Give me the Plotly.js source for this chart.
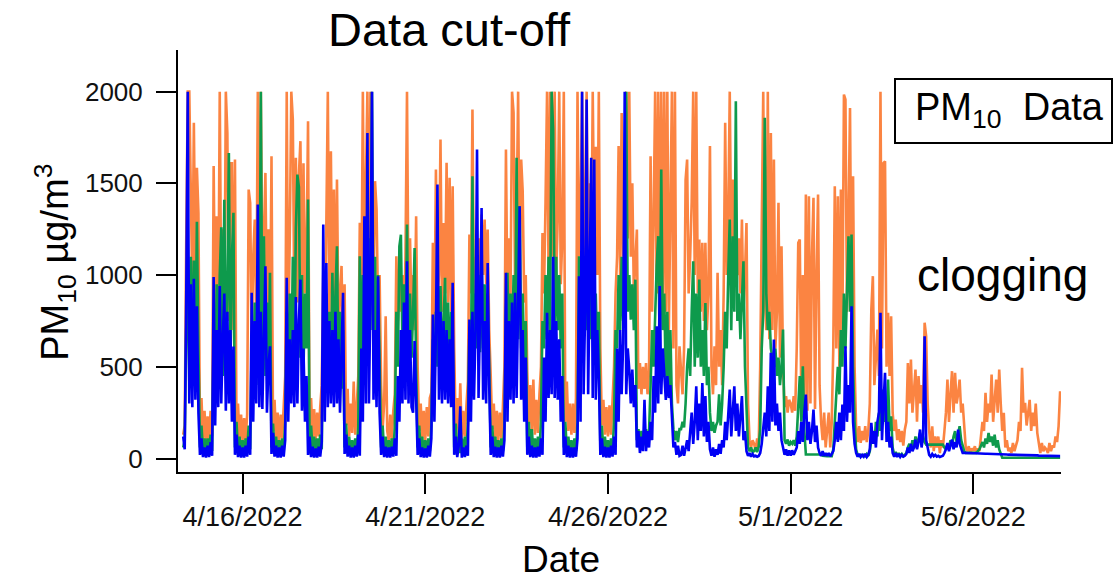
<!DOCTYPE html>
<html>
<head>
<meta charset="utf-8">
<script src="https://cdn.plot.ly/plotly-3.0.1.min.js"></script>
<style>
  html, body { margin: 0; padding: 0; background: #fff; }
  #chart { width: 1119px; height: 582px; }
</style>
</head>
<body>
<div id="chart"></div>
<script>
// Hourly PM10 readings (µg/m³), first sample 2022-04-14 09:00, one row per day.
const startTime = '2022-04-14T09:00:00Z';

const orangeSeries = [
  130,180,1200,2000,2000,1450,900,1830,1000,1585,1340,150,330,100,260,            // Apr 14 (from 09:00)
  90,230,100,260,120,1595, 700,1320,650,2000,800,1250, 700,2000,1775,750,1610,1610, 700,1630,150,300,100,240,   // Apr 15
  90,220,100,240,1466,1394, 600,1100,1303,700,2000,800, 2000,900,1200,1557,750,1250, 600,1648,150,320,100,250,  // Apr 16
  90,240,110,260,450,2000, 650,1200,2000,1848,800,1640, 850,1548,1730,800,1610,900, 1100,1839,160,330,110,270,  // Apr 17
  100,250,120,280,400,1000, 700,1266,2000,750,1675,800, 1466,750,1521,700,900,1050, 600,950,180,380,120,300,    // Apr 18
  140,420,130,300,450,1285, 800,2000,900,1500,2000,1000, 2000,1200,900,1512,1360,800, 1000,400,160,300,775,150, // Apr 19
  100,240,100,260,350,1103, 750,1050,800,1000,700,1100, 2000,850,1200,750,1000,700, 1320,500,150,300,110,260,   // Apr 20
  100,280,120,330,360,1176, 700,1575,850,1000,1739,800, 1284,900,1612,850,1530,800, 1484,600,160,330,120,410,   // Apr 21
  110,260,120,280,420,1221, 900,1902,800,1100,850,1200, 900,1330,1000,1303,950,1248, 700,450,160,300,110,260,   // Apr 22
  100,250,110,280,500,1684, 800,1200,850,2000,1884,900, 1300,2000,950,1630,1457,850, 1000,470,180,400,150,430,  // Apr 23
  130,320,140,350,500,1230, 900,1400,2000,1000,2000,1100, 1500,2000,1000,1300,2000,950, 1200,2000,200,420,150,300, // Apr 24
  130,300,140,330,2000,1100, 1300,2000,1000,1400,2000,1100, 1500,1000,2000,1200,1700,1000, 2000,600,180,320,130,280, // Apr 25
  120,290,130,320,500,900, 1100,1703,1000,1884,1100,1500, 2000,1200,2000,1100,1500,900, 1100,1248,380,520,350,500, // Apr 26
  380,520,350,480,1648,800, 1300,2000,900,2000,1000,2000, 900,2000,800,2000,700,1300, 2000,600,2000,400,300,612,  // Apr 27
  500,350,600,1520,1630,900, 1100,1400,2000,1000,2000,900, 1194,800,1176,750,1176,700, 900,1703,500,350,612,400,  // Apr 28
  1012,500,700,400,900,1830, 1000,1300,2000,1100,1521,1000, 1300,1000,1200,900,1303,800, 1000,1284,300,100,60,100, // Apr 29
  80,40,110,60,500,1484, 2000,900,700,2000,650,1775, 700,1630,600,800,1394,550, 1157,500,280,340,250,320,        // Apr 30
  300,250,340,260,600,1176, 1194,300,1000,280,1439,260, 1430,300,1100,1421,270,1000, 1439,400,200,100,250,60,    // May 1
  150,250,60,200,600,1484, 600,1430,500,1466,700,1984, 1957,800,1300,1911,700,1539, 500,170,90,176,85,150,       // May 2
  100,176,90,150,300,812, 994,400,549,703,450,2000, 600,1611,1620,500,794,450, 776,250,150,212,100,160,          // May 3
  90,150,70,158,200,521, 300,540,250,400,485,200, 449,300,400,250,740,667, 300,150,60,176,40,120,                // May 4
  60,120,30,100,60,150, 250,430,200,350,476,250, 467,300,350,430,250,300, 176,60,40,67,30,55,                    // May 5
  40,67,30,55,40,120, 200,150,358,200,300,250, 458,200,300,430,250,485, 300,150,249,60,100,40,                   // May 6
  60,30,85,40,70,100, 200,150,494,250,303,180, 249,320,150,250,176,300, 140,80,30,85,40,60,                      // May 7
  50,30,85,40,70,60,120,90,176,367                                                                               // May 8 (to 09:00)
];

const greenSeries = [
  60,100,700,1000,420,1100,450,1080,500,1290,600,60,180,40,110,                    // Apr 14 (from 09:00)
  30,110,35,130,40,700, 400,950,420,1000,1260,450, 1410,500,900,1666,480,1100, 1340,60,200,40,120,30,     // Apr 15
  100,30,110,40,180,50, 650,380,850,400,1050,450, 2000,500,1212,450,850,400, 1012,60,190,40,120,30,       // Apr 16
  100,30,110,40,200,800, 420,900,450,1100,500,1250, 1548,1480,550,1000,480,900, 600,1412,60,180,40,120,   // Apr 17
  30,110,40,130,50,700, 400,900,450,800,480,1012, 450,900,1157,420,800,380, 700,60,190,40,120,30,         // Apr 18
  100,30,110,40,180,1103, 450,1000,500,1100,550,1200, 700,2000,600,1100,500,1000, 500,60,180,40,120,30,   // Apr 19
  100,30,110,40,170,800, 500,1157,1220,600,950,550, 1275,600,900,550,800,1148, 500,60,180,40,120,30,      // Apr 20
  100,30,110,40,180,650, 450,800,500,700,940,480, 800,985,500,850,450,800, 700,60,190,40,120,30,          // Apr 21
  110,30,120,40,190,700, 500,1539,550,900,600,1000, 580,1100,600,950,550,900, 500,60,180,40,120,30,       // Apr 22
  100,30,110,40,180,800, 1012,500,900,550,1000,600, 1639,650,1375,600,900,500, 750,60,200,40,160,30,      // Apr 23
  110,30,120,40,200,750, 600,1000,650,1100,700,2000, 1794,750,1100,700,1000,600, 900,60,200,40,120,30,    // Apr 24
  100,30,110,40,200,1103, 600,1000,650,900,700,950, 1012,650,1000,600,900,550, 800,60,180,40,120,30,      // Apr 25
  100,30,110,40,200,700, 600,1000,700,1100,750,1200, 2000,800,1000,757,950,700, 975,100,160,80,150,70,    // Apr 26
  90,160,80,150,400,700, 500,800,1048,1212,600,1575, 700,900,400,800,350,700, 300,160,100,150,90,160,     // Apr 27
  160,200,170,300,500,600, 450,800,1075,500,900,550, 976,500,700,450,848,400, 500,250,150,200,140,180,    // Apr 28
  200,350,180,300,500,800, 600,1000,1303,700,1212,800, 1948,750,900,650,850,1075, 500,300,60,40,60,35,    // Apr 29
  40,60,35,65,160,600, 800,1857,900,700,800,600, 540,500,600,450,550,400, 500,703,100,80,104,70,          // Apr 30
  90,80,100,70,120,300, 450,200,503,150,22,22, 22,22,22,22,22,22, 22,22,22,15,13,13,                      // May 1
  13,13,13,13,50,200, 300,500,350,700,500,900, 600,1000,1212,800,1221,500, 200,50,20,13,20,13,            // May 2
  20,13,25,15,40,100, 150,80,200,120,250,150, 376,200,300,150,430,150, 230,60,20,35,15,30,                // May 3
  15,25,12,20,30,60, 80,50,100,60,120,70, 100,140,80,120,90,76, 76,76,76,76,76,76,                        // May 4
  76,76,76,76,76,60, 50,80,60,100,70,120, 149,90,130,176,100,60, 40,31,31,31,31,31,                       // May 5
  31,31,31,40,50,70, 90,60,110,80,140,90, 120,70,130,60,100,50, 20,4,4,4,4,4,                             // May 6
  4,4,3,4,4,4, 3,4,4,4,4,3, 4,4,4,4,3,4, 4,4,4,4,3,4,                                                     // May 7
  4,4,4,3,4,4,4,4,3,4                                                                                     // May 8 (to 09:00)
];

const blueSeries = [
  120,50,900,2000,300,950,280,980,320,830,250,20,110,8,60,                        // Apr 14 (from 09:00)
  5,70,8,90,15,990, 180,700,280,940,300,650, 900,260,800,300,700,200, 610,20,130,8,70,5,            // Apr 15
  60,5,70,10,120,20, 903,200,750,300,1385,280, 800,270,650,1048,250,500, 612,25,140,10,70,5,        // Apr 16
  60,5,70,10,100,985, 200,650,300,700,280,880, 300,750,975,260,600,200, 450,20,120,8,65,5,          // Apr 17
  55,5,65,10,90,1275, 200,1066,280,750,300,700, 280,800,300,650,250,550, 903,25,130,10,70,5,        // Apr 18
  60,5,70,10,130,15, 600,200,1321,300,1775,300, 900,2000,320,700,280,994, 250,20,120,8,65,5,        // Apr 19
  60,5,65,10,110,15, 450,200,700,300,850,320, 1075,300,700,280,250,640, 300,20,110,8,60,5,          // Apr 20
  55,5,70,10,110,785, 200,700,1494,320,800,300, 750,320,700,300,650,280, 958,20,120,8,70,285,       // Apr 21
  5,60,8,70,15,758, 200,800,320,700,1684,330, 800,1366,320,750,300,1066, 400,20,120,8,65,5,         // Apr 22
  60,5,70,10,100,1012, 200,750,320,850,300,903, 330,800,1375,320,700,200, 550,20,120,8,70,5,        // Apr 23
  60,5,65,10,110,20, 550,200,794,330,700,350, 1100,330,750,320,650,200, 450,20,120,8,70,5,          // Apr 24
  60,5,60,10,110,994, 200,2000,350,800,1957,350, 900,1639,330,1630,320,700, 450,20,110,8,65,5,      // Apr 25
  60,5,70,10,120,20, 600,200,700,350,630,2000, 350,600,485,300,485,280, 400,60,150,30,120,40,       // Apr 26
  320,40,150,60,200,100, 449,250,721,300,940,350, 600,485,320,450,330,400, 200,60,90,20,70,15,      // Apr 27
  20,70,15,60,100,40, 150,250,80,200,394,100, 300,150,412,120,340,90, 200,50,15,60,10,50,           // Apr 28
  20,80,25,100,60,200, 100,250,376,120,300,394, 150,300,120,250,340,100, 150,40,15,30,10,25,        // Apr 29
  12,15,10,14,30,80, 150,250,120,394,150,576, 200,649,180,300,150,250, 100,60,20,50,15,45,          // Apr 30
  15,45,20,40,60,150, 80,200,90,250,349,100, 200,80,150,267,90,180, 60,30,15,40,15,30,              // May 1
  15,30,12,25,40,100, 200,90,250,100,294,150, 612,200,400,250,830,200, 80,30,10,25,8,20,            // May 2
  10,25,8,20,50,194, 80,150,60,200,250,794, 100,300,467,90,200,60, 120,30,10,30,8,25,               // May 3
  8,20,10,15,25,60, 30,80,40,60,103,50, 90,158,60,120,667,100, 50,20,10,25,12,20,                   // May 4
  10,15,8,12,15,30, 50,85,40,70,103,50, 90,60,158,80,60,31, 31,30,30,30,30,29,                      // May 5
  29,29,28,28,28,27, 27,27,26,26,26,25, 25,25,24,24,24,23, 23,23,22,22,22,21,                       // May 6
  21,21,21,20,20,20, 20,19,19,19,19,18, 18,18,18,17,17,17, 17,16,16,16,16,15,                       // May 7
  15,15,15,14,14,14,14,14,13,13                                                                     // May 8 (to 09:00)
];

const seriesColors = ['#fb8442', '#0e9a4c', '#0000f5'];
const tickDates = ['2022-04-16', '2022-04-21', '2022-04-26', '2022-05-01', '2022-05-06'];
const tickLabels = ['4/16/2022', '4/21/2022', '4/26/2022', '5/1/2022', '5/6/2022'];
const yTicks = [0, 500, 1000, 1500, 2000];

// Timestamps for the hourly samples.
function hourlyTimes(count) {
  const t0 = new Date(startTime).getTime();
  const out = [];
  for (let i = 0; i < count; i++) {
    out.push(new Date(t0 + i * 3600000).toISOString().slice(0, 19).replace('T', ' '));
  }
  return out;
}

// Plot frame in page pixels, used to place the free text.
const frame = { left: 178, right: 1061, top: 50, bottom: 472.5 };
const px = x => (x - frame.left) / (frame.right - frame.left);
const py = y => (frame.bottom - y) / (frame.bottom - frame.top);

const fontFamily = 'Liberation Sans, Arial, Helvetica, sans-serif';

const traces = [orangeSeries, greenSeries, blueSeries].map((vals, i) => ({
  type: 'scatter',
  mode: 'lines',
  x: hourlyTimes(vals.length),
  y: vals,
  line: { color: seriesColors[i], width: 2.6 },
  hoverinfo: 'skip'
}));

const note = (text, x, y, size, extra) => Object.assign({
  text: text, xref: 'paper', yref: 'paper', x: px(x), y: py(y),
  xanchor: 'left', yanchor: 'middle', showarrow: false,
  font: { family: fontFamily, size: size, color: '#000' }
}, extra || {});

const layout = {
  width: 1119,
  height: 582,
  margin: { l: frame.left, r: 1119 - frame.right, t: frame.top, b: 582 - frame.bottom, pad: 0 },
  paper_bgcolor: '#fff',
  plot_bgcolor: '#fff',
  showlegend: false,
  font: { family: fontFamily, color: '#000' },
  xaxis: {
    type: 'date',
    range: ['2022-04-14 05:35', '2022-05-08 09:35'],
    showgrid: false, zeroline: false,
    showline: true, linecolor: '#000', linewidth: 2,
    ticks: 'outside', ticklen: 20, tickwidth: 2, tickcolor: '#000',
    tickmode: 'array', tickvals: tickDates, ticktext: tickLabels,
    tickfont: { family: fontFamily, size: 27, color: '#111' }
  },
  yaxis: {
    range: [-73.5, 2227],
    showgrid: false, zeroline: false,
    showline: true, linecolor: '#000', linewidth: 2,
    ticks: 'outside', ticklen: 20, tickwidth: 2, tickcolor: '#000',
    tickmode: 'array', tickvals: yTicks, ticktext: yTicks.map(String),
    ticklabelstandoff: 8,
    tickfont: { family: fontFamily, size: 26, color: '#111' }
  },
  shapes: [{
    type: 'rect', xref: 'paper', yref: 'paper',
    x0: px(895), x1: px(1112), y0: py(143), y1: py(79),
    line: { color: '#000', width: 2 }, fillcolor: 'rgba(0,0,0,0)'
  }],
  annotations: [
    note('Data cut-off', 326, 29, 47),
    note('clogging', 915, 275, 46),
    note('PM<sub>10</sub>\u00A0\u00A0Data', 1009, 110, 38, { xanchor: 'center' }),
    note('Date', 560.7, 582, 37, { xanchor: 'center', yanchor: 'bottom', borderpad: 0 }),
    note('PM<sub>10</sub> µg/m<sup>3</sup>', 55, 263, 38, { xanchor: 'center', textangle: -90 })
  ]
};

Plotly.newPlot('chart', traces, layout, { staticPlot: true, displayModeBar: false });
</script>
</body>
</html>
